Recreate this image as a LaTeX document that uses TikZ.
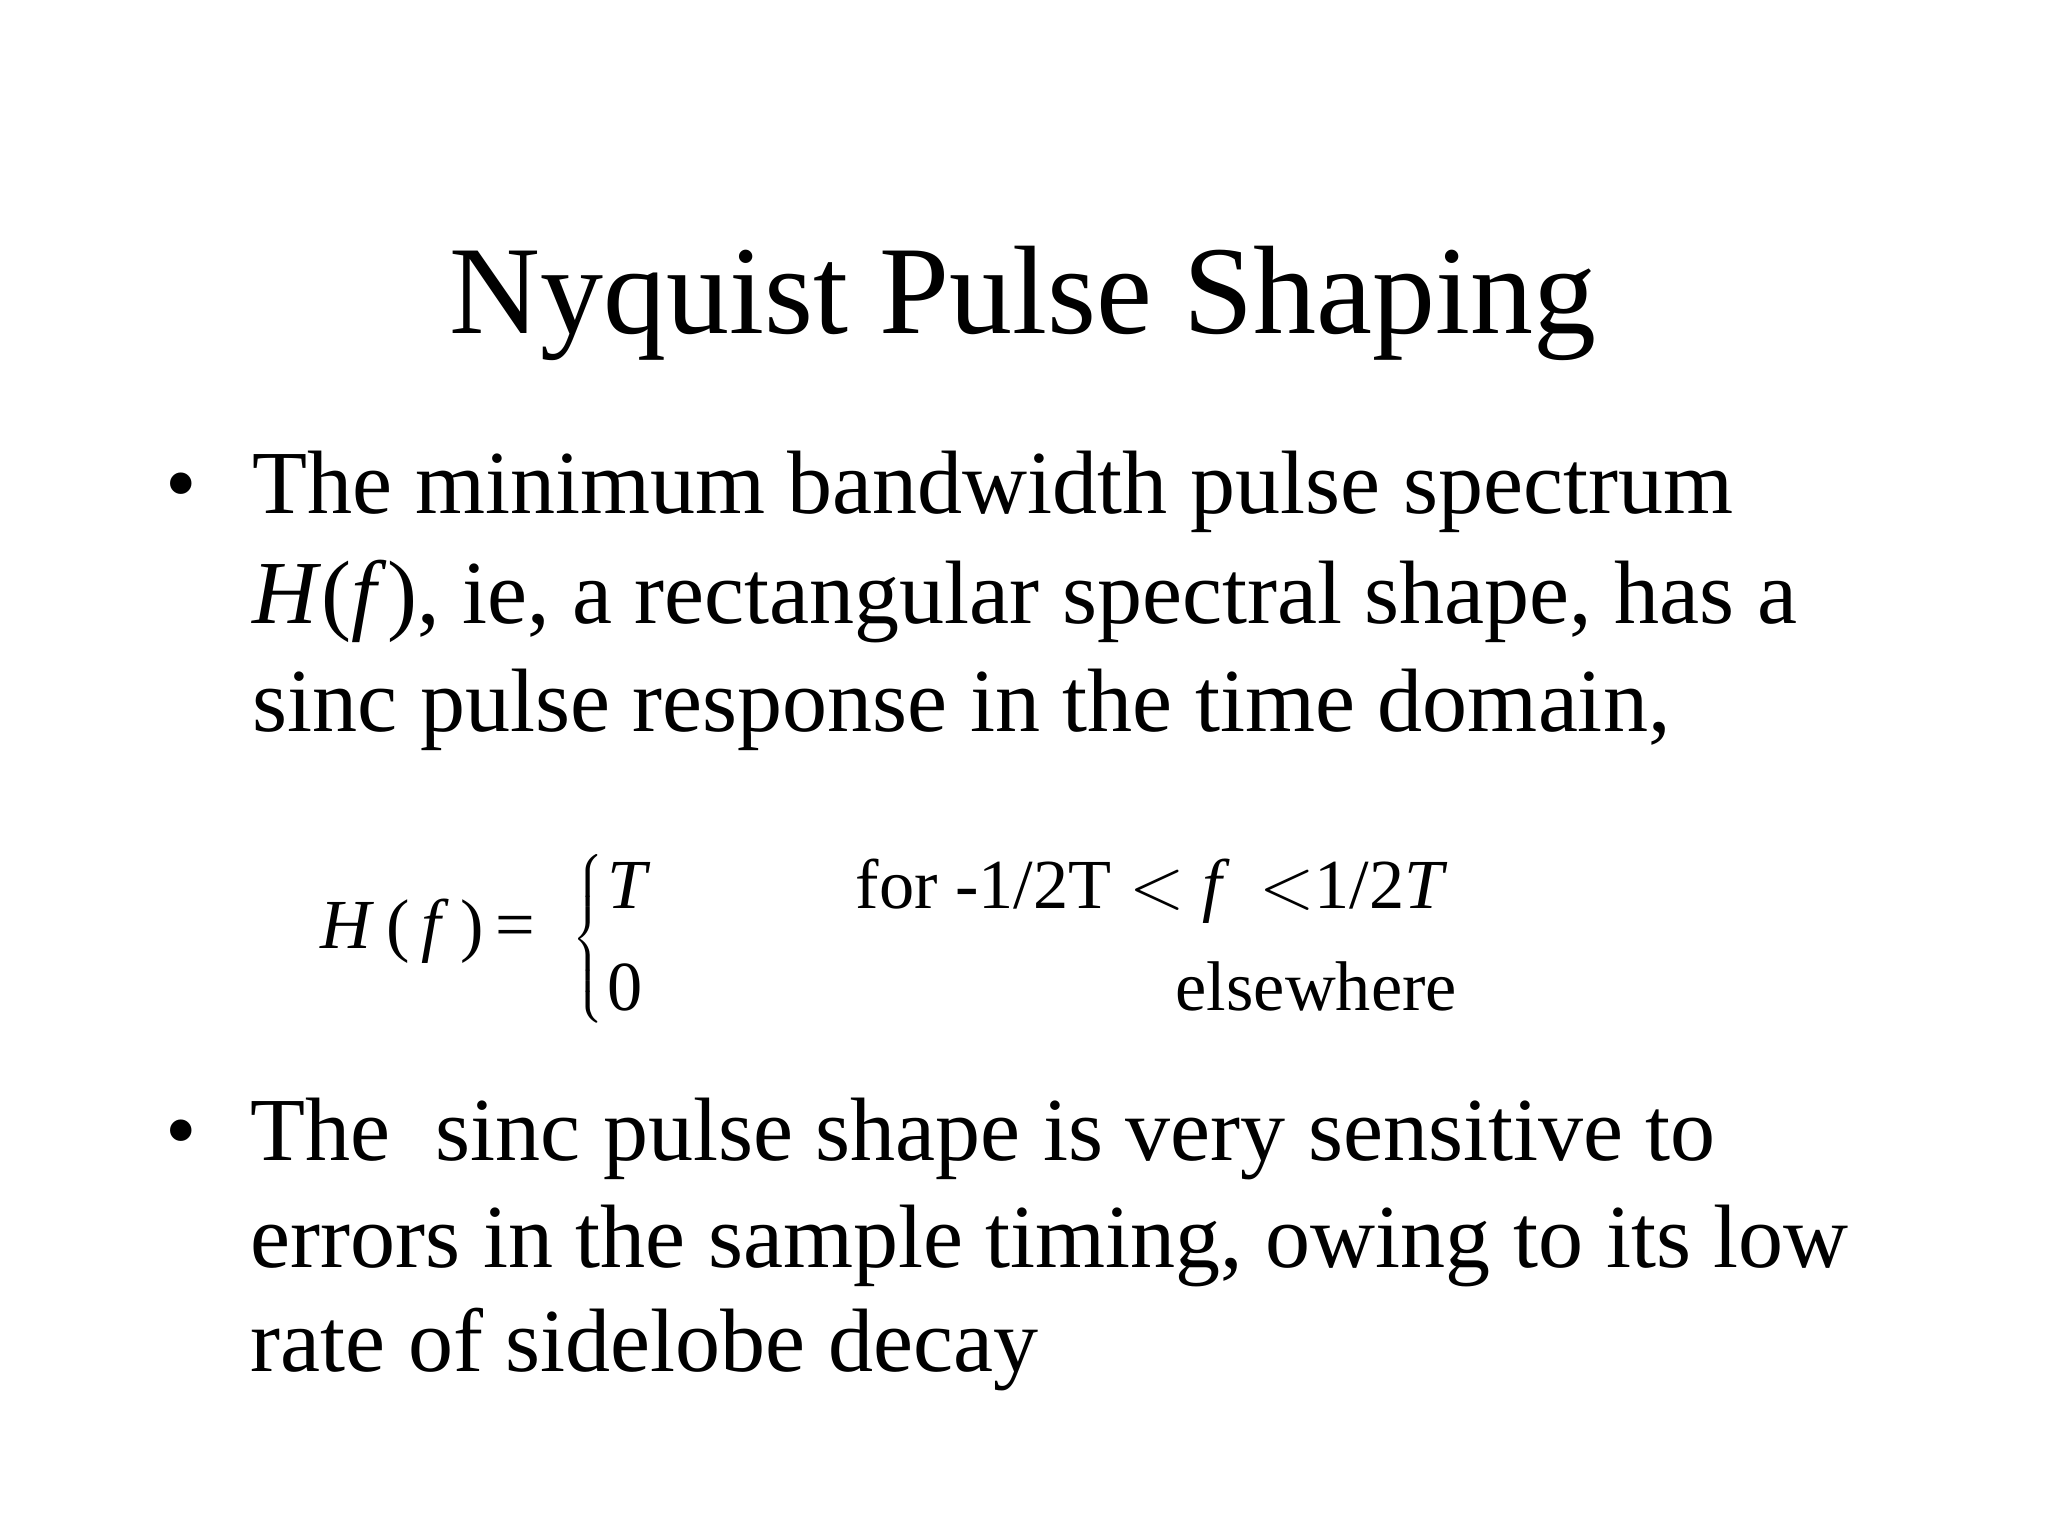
\documentclass[tikz,border=0pt]{standalone}
\usepackage{fontspec}
\setmainfont{Liberation Serif}
\begin{document}
\begin{tikzpicture}[x=0.01cm,y=-0.01cm,
  title/.style={anchor=base,font=\fontsize{35.8pt}{44pt}\selectfont},
  body/.style={anchor=base west,font=\fontsize{25.6pt}{34pt}\selectfont,inner sep=0},
  eq/.style={anchor=base west,font=\fontsize{20pt}{24pt}\selectfont,inner sep=0}]
\fill[white] (0,0) rectangle (2048,1536);
\node[title] (t) at (1023,333) {Nyquist Pulse Shaping};
\node[body] (b1) at (165,513) {•};
\node[body] (l1) at (252,513) {The minimum bandwidth pulse spectrum};
\node[body] (l2) at (252,623) {\textit{H}(\textit{f}), ie, a rectangular spectral shape, has a};
\node[body] (l3) at (252,731) {sinc pulse response in the time domain,};
\node[eq] (hf) at (320,948) {\textit{H}\,(\,\textit{f}\,)\,=};
\node[inner sep=0] (br) at (590,939) {$\left\{\rule{0pt}{0.93cm}\right.$};
\node[eq] (tt) at (607,908) {\textit{T}};
\node[eq] (fr) at (855,908) {for -1/2T $<$ \textit{f}\, $<$1/2\textit{T}};
\node[eq] (z) at (607,1010) {0};
\node[eq] (el) at (1175,1010) {elsewhere};
\node[body] (b2) at (165,1160) {•};
\node[body] (m1) at (250,1160) {The\ \ sinc pulse shape is very sensitive to};
\node[body] (m2) at (250,1267) {errors in the sample timing, owing to its low};
\node[body] (m3) at (250,1371) {rate of sidelobe decay};
\end{tikzpicture}
\end{document}
